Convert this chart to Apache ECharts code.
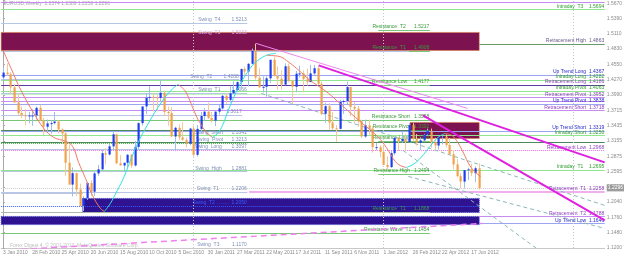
<!DOCTYPE html>
<html><head><meta charset="utf-8">
<script src="https://cdn.jsdelivr.net/npm/echarts@6/dist/echarts.min.js"></script>
<style>html,body{margin:0;padding:0;background:#fff}#c{width:625px;height:257px}</style>
</head><body><div id="c"></div>
<script>
// ---------- DATA ----------
const titleText = 'EURUSD,Weekly  1.2374 1.2389 1.2258 1.2296';
const footerText = 'Forex Digest 4, \u00a9 2001-2012, MetaQuotes Software Corp.';
const weekCount = 165;           // weekly slots on the time axis (3 Jan 2010 ...)
const xTickLabels = ['3 Jan 2010','28 Feb 2010','25 Apr 2010','20 Jun 2010','15 Aug 2010','10 Oct 2010','5 Dec 2010','30 Jan 2011','27 Mar 2011','22 May 2011','17 Jul 2011','11 Sep 2011','6 Nov 2011','1 Jan 2012','26 Feb 2012','22 Apr 2012','17 Jun 2012'];
const yTickLabels = ['1.1200','1.1480','1.1760','1.2040','1.2315','1.2595','1.2875','1.3155','1.3435','1.3715','1.3990','1.4270','1.4550','1.4830','1.5110','1.5390','1.5670'];
const lastPrice = 1.2296;
const yearSeparators = [52, 104, 156];

// weekly candles [open, high, low, close]
const weeklyOHLC = [
[1.4323,1.4513,1.4262,1.4410],[1.4410,1.4579,1.4350,1.4380],[1.4380,1.4420,1.4030,1.4140],[1.4140,1.4200,1.3860,1.3865],
[1.3865,1.4030,1.3630,1.3670],[1.3670,1.3790,1.3580,1.3630],[1.3630,1.3740,1.3443,1.3615],[1.3615,1.3690,1.3480,1.3625],
[1.3625,1.3740,1.3435,1.3625],[1.3625,1.3785,1.3550,1.3765],[1.3765,1.3820,1.3530,1.3530],[1.3530,1.3580,1.3266,1.3420],
[1.3420,1.3550,1.3330,1.3480],[1.3480,1.3540,1.3290,1.3485],[1.3485,1.3690,1.3460,1.3515],[1.3515,1.3540,1.3300,1.3370],
[1.3370,1.3390,1.3115,1.3295],[1.3295,1.3325,1.2520,1.2760],[1.2760,1.3095,1.2355,1.2360],[1.2360,1.2675,1.2143,1.2570],
[1.2570,1.2580,1.2150,1.2270],[1.2270,1.2380,1.1960,1.1970],[1.1970,1.2150,1.1876,1.2110],[1.2110,1.2410,1.2080,1.2390],
[1.2390,1.2440,1.2150,1.2230],[1.2230,1.2590,1.2150,1.2565],[1.2565,1.2720,1.2520,1.2640],[1.2640,1.2990,1.2610,1.2935],
[1.2935,1.3030,1.2730,1.2910],[1.2910,1.3110,1.2895,1.3060],[1.3060,1.3335,1.3000,1.3280],[1.3280,1.3290,1.2735,1.2750],
[1.2750,1.2900,1.2710,1.2710],[1.2710,1.2750,1.2590,1.2760],[1.2760,1.2920,1.2660,1.2905],[1.2905,1.2920,1.2660,1.2710],
[1.2710,1.3160,1.2690,1.3050],[1.3050,1.3500,1.3010,1.3485],[1.3485,1.3790,1.3440,1.3790],[1.3790,1.4030,1.3650,1.3950],
[1.3950,1.4160,1.3860,1.3965],[1.3965,1.4030,1.3700,1.3955],[1.3955,1.4000,1.3700,1.3945],[1.3945,1.4282,1.3870,1.4040],
[1.4040,1.4080,1.3620,1.3690],[1.3690,1.3790,1.3440,1.3670],[1.3670,1.3780,1.3225,1.3240],[1.3240,1.3420,1.2970,1.3400],
[1.3400,1.3460,1.3170,1.3225],[1.3225,1.3500,1.3160,1.3180],[1.3180,1.3220,1.3045,1.3110],[1.3110,1.3400,1.3080,1.3385],
[1.3385,1.3440,1.2870,1.2905],[1.2905,1.3450,1.2870,1.3380],[1.3380,1.3690,1.3290,1.3615],[1.3615,1.3760,1.3530,1.3695],
[1.3695,1.3860,1.3560,1.3580],[1.3580,1.3690,1.3500,1.3530],[1.3530,1.3700,1.3430,1.3695],[1.3695,1.3815,1.3640,1.3755],
[1.3755,1.4000,1.3730,1.3985],[1.3985,1.4035,1.3840,1.3910],[1.3910,1.4170,1.3860,1.4030],[1.4030,1.4250,1.4040,1.4090],
[1.4090,1.4250,1.4050,1.4235],[1.4235,1.4485,1.4130,1.4475],[1.4475,1.4520,1.4355,1.4430],[1.4430,1.4585,1.4155,1.4570],
[1.4570,1.4850,1.4560,1.4810],[1.4810,1.4940,1.4280,1.4315],[1.4315,1.4490,1.4125,1.4140],[1.4140,1.4340,1.4045,1.4150],
[1.4150,1.4340,1.3970,1.4305],[1.4305,1.4640,1.4220,1.4645],[1.4645,1.4700,1.4350,1.4345],[1.4345,1.4520,1.4100,1.4300],
[1.4300,1.4450,1.4100,1.4190],[1.4190,1.4580,1.4180,1.4525],[1.4525,1.4575,1.4230,1.4260],[1.4260,1.4280,1.3835,1.4150],
[1.4150,1.4440,1.4050,1.4390],[1.4390,1.4535,1.4320,1.4395],[1.4395,1.4450,1.4050,1.4290],[1.4290,1.4480,1.4170,1.4235],
[1.4235,1.4550,1.4250,1.4395],[1.4395,1.4550,1.4360,1.4490],[1.4490,1.4530,1.4185,1.4205],[1.4205,1.4245,1.3630,1.3655],
[1.3655,1.3855,1.3495,1.3795],[1.3795,1.3850,1.3365,1.3495],[1.3495,1.3685,1.3360,1.3390],[1.3390,1.3450,1.3145,1.3380],
[1.3380,1.3915,1.3370,1.3875],[1.3875,1.3915,1.3655,1.3890],[1.3890,1.4245,1.3825,1.4145],[1.4145,1.4150,1.3610,1.3780],
[1.3780,1.3870,1.3485,1.3750],[1.3750,1.3800,1.3420,1.3520],[1.3520,1.3550,1.3210,1.3240],[1.3240,1.3550,1.3210,1.3445],
[1.3445,1.3550,1.3260,1.3385],[1.3385,1.3435,1.2945,1.3045],[1.3045,1.3120,1.2985,1.3045],[1.3045,1.3080,1.2860,1.2960],
[1.2960,1.3080,1.2725,1.2720],[1.2720,1.2880,1.2625,1.2680],[1.2680,1.2975,1.2665,1.2935],[1.2935,1.3225,1.2900,1.3215],
[1.3215,1.3230,1.2975,1.3155],[1.3155,1.3320,1.3125,1.3195],[1.3195,1.3290,1.2975,1.3140],[1.3140,1.3485,1.3140,1.3450],
[1.3450,1.3485,1.3150,1.3195],[1.3195,1.3285,1.3075,1.3125],[1.3125,1.3225,1.2995,1.3170],[1.3170,1.3290,1.3150,1.3275],
[1.3275,1.3385,1.3255,1.3345],[1.3345,1.3385,1.3035,1.3140],[1.3140,1.3215,1.3000,1.3075],[1.3075,1.3200,1.3000,1.3225],
[1.3225,1.3265,1.3095,1.3240],[1.3240,1.3280,1.3040,1.3085],[1.3085,1.3215,1.2915,1.2915],[1.2915,1.2995,1.2640,1.2730],
[1.2730,1.2825,1.2495,1.2515],[1.2515,1.2570,1.2288,1.2415],[1.2415,1.2625,1.2290,1.2625],[1.2625,1.2670,1.2445,1.2640],
[1.2640,1.2745,1.2515,1.2570],[1.2570,1.2695,1.2405,1.2660],[1.2660,1.2750,1.2265,1.2296]
];

// smoothed swing curve: [week, price]
const curveDown1 = [[0.04,1.4815],[2.21,1.4486],[4.93,1.4083],[8.46,1.3662],[11.17,1.3388],[13.88,1.3223],[17.14,1.3150],[19.04,1.3059],[20.67,1.2766],[22.57,1.2473],[24.47,1.2162],[26.64,1.1924],[27.72,1.1869]];
const curveUp1 = [[27.72,1.1869],[29.35,1.2015],[31.25,1.2253],[33.15,1.2510],[35.05,1.2839],[37.49,1.3205],[40.20,1.3534],[42.92,1.3827],[45.63,1.4065],[47.80,1.4193]];
const curveDown2 = [[47.80,1.4193],[49.70,1.4083],[51.06,1.3900],[52.42,1.3681],[53.77,1.3498],[55.67,1.3315],[57.30,1.3223]];
const curveUp2 = [[57.30,1.3223],[58.66,1.3296],[60.02,1.3443],[61.37,1.3681],[62.73,1.3900],[64.63,1.4175],[66.80,1.4413],[68.70,1.4577],[70.87,1.4687],[72.77,1.4742],[74.67,1.4761]];
const curveDown3 = [[72.23,1.4724],[75.48,1.4706],[78.20,1.4596],[80.91,1.4449],[83.63,1.4285],[86.34,1.4157],[89.05,1.4028],[91.77,1.3864],[94.48,1.3699],[96.38,1.3589],[98.28,1.3479],[99.91,1.3388],[101.53,1.3296],[103.16,1.3187],[105.33,1.2985],[107.23,1.2784],[108.59,1.2711],[110.22,1.2674]];
const curveUp3 = [[110.22,1.2674],[112.12,1.2729],[114.29,1.2857],[116.73,1.3059],[118.90,1.3223],[120.80,1.3296]];
const curveDown4 = [[120.80,1.3296],[122.70,1.3260],[124.33,1.3132],[125.96,1.2930],[127.59,1.2711],[129.21,1.2583],[130.57,1.2510]];

// trend lines [week, price]
const downTrendMain = [[86.3,1.4541],[164.5,1.2766]];
const downTrendInner = [[114.8,1.3626],[164.5,1.1704]];
const downTrendThin = [[69.2,1.4943],[127.0,1.3754]];
const channelA = [[70.6,1.4028],[164.5,1.1979]];
const channelB = [[109.4,1.2985],[146.6,1.1156]];
const channelC = [[110.8,1.2509],[164.5,1.1558]];
const waveSupport = [[-0.5,1.1155],[131.1,1.1649]];

// horizontal levels
const levelPrice = [1.5694,1.5560,1.5315,1.5191,1.5085,1.4935,1.4806,1.4797,1.4367,1.4290,1.4278,1.4186,1.4184,1.4075,1.4038,1.4010,1.3952,1.3882,1.3838,1.3718,1.3635,1.3543,1.3360,1.3345,1.3265,1.3260,1.3125,1.3159,1.3132,1.3000,1.2985,1.2625,1.2600,1.2555,1.2290,1.2226,1.2225,1.2198,1.1970,1.1970,1.1860,1.1778,1.1650,1.1476,1.1205];
const levelFrom  = [-0.5,-0.5,-0.5,102.6,-0.5,130.2,102.6,-0.5,-0.5,-0.5,-0.5,-0.5,102.6,-0.5,-0.5,-0.5,-0.5,-0.5,-0.5,-0.5,-0.5,-0.5,-0.5,-0.5,-0.5,-0.5,-0.5,102.6,-0.5,-0.5,-0.5,-0.5,-0.5,102.6,-0.5,-0.5,67.3,-0.5,-0.5,66.8,-0.5,130.2,130.2,-0.5,-0.5];
const levelTo    = [164.5,164.5,66.8,116.7,66.8,164.5,116.7,111.0,164.5,64.6,164.5,164.5,116.7,164.5,66.8,164.5,164.5,164.5,164.5,164.5,65.4,116.7,116.7,164.5,66.8,164.5,66.8,116.7,164.5,66.8,164.5,164.5,66.8,116.7,164.5,66.8,164.5,21.8,66.8,130.2,116.7,164.5,164.5,116.7,66.8];
const levelText  = ['','Intraday  T3    1.5694','Swing  T4        1.5213','Resistance  T2      1.5217','Swing  T3        1.5033','Retracement High  1.4863','Resistance  T1      1.4908','','Up Trend Long  1.4367','Swing  T2        1.4288','Intraday Long  1.4282','Retracement Long  1.4186','Resistance Low     1.4177','Intraday Pivot  1.4063','Swing  T1        1.4066','','Retracement Pivot  1.3952','','Up Trend Pivot  1.3838','Retracement Short  1.3718','1.3617','Resistance Short   1.3558','Resistance Pivot   1.3392','Up Trend Short  1.3319','Swing  Short      1.3341','Intraday Short  1.3250','Swing  Pivot      1.3213','Resistance Long   1.3203','','Swing  Long       1.3097','Retracement Low  1.2968','Intraday  T1    1.2695','Swing  High       1.2881','Resistance High   1.2494','','Swing  T1         1.2206','Retracement  T1  1.2258','','Swing  T2 .........  1.2050','','Resistance  T1      1.1868','Retracement  T2  1.1788','Up Trend Low  1.1646','Resistance Wave  T1  1.1454','Swing  T3         1.1170'];
const levelKind  = ['retr','intraday','swing','resist','swingRect','retrHigh','resist','swing','trend','swing','intraday','retrDark','resist','intraday','swing','intradayLight','retr','retr','trend','retr','swing','resist','resistDark','trend','swing','intraday','swingDotGreen','resist','resistDark','swing','retrDotted','intraday','swing','resist','gridDotted','swing','retrPink','swing','swingBlueDot','swingBlueDot','resistGrey','retr','trend','resist','swingNoLine'];

// zones
const zoneUpper = [1.5145, 1.3498, 1.2107, 1.1778];
const zoneLower = [1.4815, 1.3205, 1.1851, 1.1628];
const zoneFrom  = [-0.5, 111.3, 21.8, -0.5];
const zoneTo    = [130.2, 130.2, 130.2, 130.2];
const zoneKind  = ['sell','sell','buy','buy'];

// price tags next to zones
const tagPrice = [1.4856, 1.3208, 1.2678, 1.2028, 1.1768];
const tagKind  = ['sell','sell','buy','buy','buy'];
// small swing marks at the left edge
const swingMarkPrice = [1.4596, 1.4267, 1.3260, 1.3132, 1.2015, 1.1302];

// ---------- STYLES ----------
const FONT = '"Liberation Sans", Arial, sans-serif';
const kindStyle = {
  retr:{line:'#c68cf2',text:'#9040c0',type:'solid',w:1},
  retrDark:{line:'#5a3aa0',text:'#9040c0',type:'solid',w:1},
  retrHigh:{line:'#6a9a6a',text:'#6a5a8a',type:'solid',w:1},
  retrDotted:{line:'#e070e0',text:'#9040c0',type:'dotted',w:1},
  retrPink:{line:'#f0b0f0',text:'#9040c0',type:'solid',w:2},
  intraday:{line:'#8ee68e',text:'#2f9f2f',type:'solid',w:1},
  intradayLight:{line:'#c8f0c8',text:'#2f9f2f',type:'solid',w:1},
  trend:{line:'#9ca4f4',text:'#2828c8',type:'solid',w:1},
  swing:{line:'#b8c6e6',text:'#8090b4',type:'solid',w:1},
  swingRect:{line:'rgba(0,0,0,0)',text:'#d8b0e8',type:'solid',w:1},
  swingDotGreen:{line:'#44aa44',text:'#8090b4',type:'dotted',w:1},
  swingBlueDot:{line:'#3a5cff',text:'#3a5cff',type:'dotted',w:1},
  swingNoLine:{line:'rgba(0,0,0,0)',text:'#8090b4',type:'solid',w:1},
  gridDotted:{line:'#cccccc',text:'#999',type:'dotted',w:1},
  resist:{line:'#78c878',text:'#3a9a3a',type:'solid',w:1},
  resistDark:{line:'#4a8a5a',text:'#3a9a3a',type:'solid',w:1},
  resistGrey:{line:'#a8b8a8',text:'#3a9a3a',type:'solid',w:1}
};
const zoneStyle = {
  sell:{color:'#7c1250',borderColor:'#e07a30'},
  buy:{color:'#2e1290',borderColor:'#4040c8'}
};
const tagStyle = {
  sell:{color:'#c82010',border:'#c08060'},
  buy:{color:'#2030c0',border:'#8090e0'}
};

// ---------- BUILD ----------
const weeks = [];
for (let i = 0; i < weekCount; i++) {
  const d = new Date(Date.UTC(2010, 0, 3 + 7 * i));
  weeks.push(d.toISOString().slice(0, 10));
}
const candleData = weeklyOHLC.map((r, i) => [i, r[0], r[1], r[2], r[3]]);

const fmt4 = v => v.toFixed(4);

const levelLines = levelPrice.map((p, i) => {
  const st = kindStyle[levelKind[i]];
  const first = {
    coord: [levelFrom[i], p],
    lineStyle: {color: st.line, width: st.w, type: st.type},
    label: levelText[i] ? {
      show: true, position: 'insideEndTop', formatter: levelText[i],
      color: st.text, fontSize: 5, fontFamily: FONT, distance: 0.5, padding: 0
    } : {show: false}
  };
  return [first, {coord: [levelTo[i], p]}];
});
yearSeparators.forEach(w => {
  levelLines.push([{coord: [w, 1.12], lineStyle: {color: '#c8c8c8', type: [1, 2], width: 1}, label: {show: false}}, {coord: [w, 1.5738]}]);
});
levelLines.push({
  yAxis: lastPrice,
  lineStyle: {color: 'rgba(0,0,0,0)'},
  label: {show: true, position: 'end', formatter: fmt4(lastPrice), color: '#ffffff',
          backgroundColor: '#9c9c9c', fontSize: 5, fontFamily: FONT, padding: [1, 1], distance: 2}
});

const zones = zoneUpper.map((u, i) => {
  const st = zoneStyle[zoneKind[i]];
  return [{coord: [zoneFrom[i], u], itemStyle: {color: st.color, borderColor: st.borderColor, borderWidth: 1, borderType: 'dotted', opacity: 1}},
          {coord: [zoneTo[i], zoneLower[i]]}];
});

function renderCandle(params, api) {
  const i = api.value(0), o = api.value(1), h = api.value(2), l = api.value(3), c = api.value(4);
  const pH = api.coord([i, h]), pL = api.coord([i, l]), pO = api.coord([i, o]), pC = api.coord([i, c]);
  const bull = c >= o;
  const x = Math.round(pH[0]) + 0.5;
  const top = Math.min(pO[1], pC[1]);
  const hgt = Math.max(1, Math.abs(pO[1] - pC[1]));
  return {
    type: 'group',
    children: [
      {type: 'line', shape: {x1: x, y1: pH[1], x2: x, y2: pL[1]},
       style: {stroke: bull ? '#9ebcf0' : '#f4c898', lineWidth: 1}},
      {type: 'rect', shape: {x: x - 1, y: top, width: 2.2, height: hgt},
       style: {fill: bull ? '#1e3cf0' : '#f0a24c'}}
    ]
  };
}

const lineSeries = (data, color, width, type, z) => ({
  type: 'line', xAxisIndex: 1, data: data, showSymbol: false, symbol: 'none',
  lineStyle: {color: color, width: width, type: type}, z: z, silent: true, animation: false, clip: true
});
const smoothSeries = (data, color) => Object.assign(lineSeries(data, color, 1, 'solid', 5), {smooth: 0.4});

const chart = echarts.init(document.getElementById('c'), null, {renderer: 'canvas'});
chart.setOption({
  animation: false,
  backgroundColor: '#ffffff',
  textStyle: {fontFamily: FONT},
  grid: {left: 0, right: 17, top: 0, bottom: 9, containLabel: false},
  xAxis: [
    {type: 'category', data: weeks, boundaryGap: true,
     axisLine: {show: true, lineStyle: {color: '#c8c8c8'}},
     axisTick: {show: false},
     axisLabel: {
       interval: (idx) => idx % 8 === 0 && idx / 8 < xTickLabels.length,
       formatter: (v, idx) => xTickLabels[idx / 8] || '',
       fontSize: 5, color: '#8c8c8c', align: 'left', margin: 2, fontFamily: FONT
     },
     splitLine: {show: false}},
    {type: 'value', min: -0.5, max: 164.5, show: false, gridIndex: 0}
  ],
  yAxis: {
    type: 'value', position: 'right', min: 1.12, max: 1.5738, interval: 0.028, scale: true,
    axisLine: {show: true, lineStyle: {color: '#a8a8a8'}},
    axisTick: {show: true, length: 2, lineStyle: {color: '#a8a8a8'}},
    splitLine: {show: false},
    axisLabel: {
      fontSize: 5, color: '#8c8c8c', margin: 2, fontFamily: FONT,
      formatter: (v) => {
        const k = Math.round((v - 1.12) / 0.028);
        if (Math.abs(v - (1.12 + k * 0.028)) > 1e-6) return '';
        return yTickLabels[k] || '';
      }
    }
  },
  graphic: [
    {type: 'text', left: 3, top: 1, style: {text: titleText, fill: '#a8a8a8', font: '5px ' + FONT}},
    {type: 'text', left: 10, top: 243, style: {text: footerText, fill: '#c0c0c0', font: '5px ' + FONT}}
  ],
  series: [
    {
      type: 'line', xAxisIndex: 1, data: [], silent: true, z: 1,
      markArea: {silent: true, z: 1, data: zones, label: {show: false}},
      markLine: {silent: true, z: 2, symbol: ['none', 'none'], animation: false, data: levelLines}
    },
    lineSeries(waveSupport, '#f080f0', 1.5, [6, 4], 3),
    lineSeries(channelA, '#8ab8b8', 1, [4, 3], 3),
    lineSeries(channelB, '#8ab8b8', 1, [4, 3], 3),
    lineSeries(channelC, '#8ab8b8', 1, [4, 3], 3),
    {
      type: 'custom', xAxisIndex: 0, data: candleData, renderItem: renderCandle,
      encode: {x: 0, y: [1, 2, 3, 4]}, z: 4, silent: true, animation: false
    },
    smoothSeries(curveDown1, '#f07a62'),
    smoothSeries(curveUp1, '#2ee0e0'),
    smoothSeries(curveDown2, '#f07a62'),
    smoothSeries(curveUp2, '#2ee0e0'),
    smoothSeries(curveDown3, '#f07a62'),
    smoothSeries(curveUp3, '#2ee0e0'),
    smoothSeries(curveDown4, '#f07a62'),
    lineSeries(downTrendThin, '#ee88ee', 1, 'solid', 6),
    lineSeries(downTrendMain, '#e020e0', 2, 'solid', 6),
    lineSeries(downTrendInner, '#e020e0', 2, 'solid', 6),
    {
      type: 'scatter', xAxisIndex: 1, symbolSize: 1, itemStyle: {opacity: 0}, z: 7, silent: true,
      data: tagPrice.map((p, i) => ({
        value: [130.4, p],
        label: {show: true, position: 'right', distance: 1, formatter: fmt4(p), fontSize: 5, fontFamily: FONT,
                color: tagStyle[tagKind[i]].color, backgroundColor: '#ffffff',
                borderColor: tagStyle[tagKind[i]].border, borderWidth: 1, padding: [1, 1]}
      }))
    },
    {
      type: 'scatter', xAxisIndex: 1, symbolSize: 1, itemStyle: {opacity: 0}, z: 7, silent: true,
      data: swingMarkPrice.map(p => ({
        value: [-0.5, p],
        label: {show: true, position: 'right', distance: 1, formatter: fmt4(p), fontSize: 4.5, fontFamily: FONT, color: '#d03020'}
      }))
    }
  ]
});
</script>
</body></html>
